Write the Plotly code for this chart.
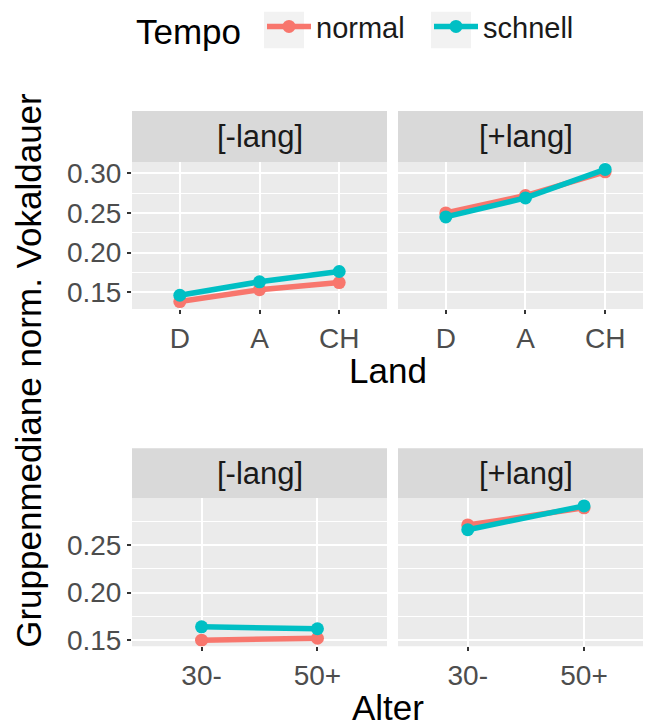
import plotly.graph_objects as go

W, H = 646, 726

# ---- data ----
land_categories = ["D", "A", "CH"]
alter_categories = ["30-", "50+"]
tempo_levels = ["normal", "schnell"]
facet_labels = ["[-lang]", "[+lang]"]

normal_minus_land = [0.138, 0.153, 0.162]
schnell_minus_land = [0.146, 0.163, 0.176]
normal_plus_land = [0.250, 0.272, 0.302]
schnell_plus_land = [0.245, 0.269, 0.305]

normal_minus_alter = [0.150, 0.152]
schnell_minus_alter = [0.164, 0.162]
normal_plus_alter = [0.271, 0.289]
schnell_plus_alter = [0.266, 0.291]

colors = {"normal": "#F8766D", "schnell": "#00BFC4"}

FONT = "Liberation Sans, Arial, sans-serif"
TITLE_SIZE = 35
TICK_SIZE = 28
STRIP_SIZE = 31
LEG_SIZE = 29

def px_x(p):
    return p / W

def px_y(p):
    return 1 - p / H

fig = go.Figure()

panels = [
    ("x", "y", land_categories, normal_minus_land, schnell_minus_land),
    ("x2", "y2", land_categories, normal_plus_land, schnell_plus_land),
    ("x3", "y3", alter_categories, normal_minus_alter, schnell_minus_alter),
    ("x4", "y4", alter_categories, normal_plus_alter, schnell_plus_alter),
]

for i, (xa, ya, xs, nv, sv) in enumerate(panels):
    for name, vals in zip(tempo_levels, [nv, sv]):
        fig.add_trace(go.Scatter(
            x=xs, y=vals, xaxis=xa, yaxis=ya, mode="lines+markers",
            name=name, legendgroup=name, showlegend=(i == 0),
            line=dict(color=colors[name], width=5.5),
            marker=dict(color=colors[name], size=13),
        ))

left_x = (132, 387)
right_x = (398, 643)
top_panel_y = (161, 311)
top_strip_y = (109, 161)
bot_panel_y = (504, 655)
bot_strip_y = (453, 504)

common_x = dict(
    type="category", showgrid=True, gridcolor="white", gridwidth=2,
    zeroline=False, showline=False, ticks="outside", ticklen=4, tickwidth=1.5,
    tickcolor="#333333", tickfont=dict(family=FONT, size=TICK_SIZE, color="#4D4D4D"),
    fixedrange=True,
)
common_y = dict(
    showgrid=True, gridcolor="white", gridwidth=2, zeroline=False, showline=False,
    dtick=0.05, tick0=0, tickformat=".2f",
    minor=dict(dtick=0.025, tick0=0, showgrid=True, gridcolor="white", gridwidth=1),
    tickfont=dict(family=FONT, size=TICK_SIZE, color="#4D4D4D"),
    ticklen=4, tickwidth=1.5, tickcolor="#333333", fixedrange=True,
)

top_range = [0.1286, 0.3145]
bot_range = [0.1435, 0.299]

fig.update_layout(
    xaxis=dict(common_x, domain=[px_x(left_x[0]), px_x(left_x[1])], anchor="y",
               categoryarray=land_categories, categoryorder="array", range=[-0.6, 2.6]),
    xaxis2=dict(common_x, domain=[px_x(right_x[0]), px_x(right_x[1])], anchor="y2",
                categoryarray=land_categories, categoryorder="array", range=[-0.6, 2.475]),
    xaxis3=dict(common_x, domain=[px_x(left_x[0]), px_x(left_x[1])], anchor="y3",
                categoryarray=alter_categories, categoryorder="array", range=[-0.6, 1.6]),
    xaxis4=dict(common_x, domain=[px_x(right_x[0]), px_x(right_x[1])], anchor="y4",
                categoryarray=alter_categories, categoryorder="array", range=[-0.6, 1.507]),
    yaxis=dict(common_y, domain=[px_y(top_panel_y[1]), px_y(top_panel_y[0])], anchor="x",
               range=top_range, ticks="outside"),
    yaxis2=dict(common_y, domain=[px_y(top_panel_y[1]), px_y(top_panel_y[0])], anchor="x2",
                range=top_range, showticklabels=False, ticks=""),
    yaxis3=dict(common_y, domain=[px_y(bot_panel_y[1]), px_y(bot_panel_y[0])], anchor="x3",
                range=bot_range, ticks="outside"),
    yaxis4=dict(common_y, domain=[px_y(bot_panel_y[1]), px_y(bot_panel_y[0])], anchor="x4",
                range=bot_range, showticklabels=False, ticks=""),
)

shapes = []
annotations = []
for xr in (left_x, right_x):
    for yr in (top_panel_y, bot_panel_y):
        shapes.append(dict(type="rect", xref="paper", yref="paper", layer="below",
                           x0=px_x(xr[0]), x1=px_x(xr[1]), y0=px_y(yr[1]), y1=px_y(yr[0]),
                           fillcolor="#EBEBEB", line=dict(width=0)))
strip_centers = [259.5, 525.5]
for k, xr in enumerate((left_x, right_x)):
    for yr in (top_strip_y, bot_strip_y):
        shapes.append(dict(type="rect", xref="paper", yref="paper", layer="below",
                           x0=px_x(xr[0]), x1=px_x(xr[1]), y0=px_y(yr[1]), y1=px_y(yr[0]),
                           fillcolor="#D9D9D9", line=dict(width=0)))
        annotations.append(dict(text=facet_labels[k], xref="paper", yref="paper",
                                x=px_x(strip_centers[k]), y=px_y((yr[0] + yr[1]) / 2),
                                xanchor="center", yanchor="middle", showarrow=False,
                                font=dict(family=FONT, size=STRIP_SIZE, color="#1A1A1A")))

# legend key backgrounds
for kx in (264, 431):
    shapes.append(dict(type="rect", xref="paper", yref="paper", layer="below",
                       x0=px_x(kx), x1=px_x(kx + 40), y0=px_y(45), y1=px_y(8),
                       fillcolor="#F2F2F2", line=dict(width=0)))

annotations.append(dict(text="Tempo", xref="paper", yref="paper", x=px_x(134), y=px_y(28),
                        xanchor="left", yanchor="middle", showarrow=False,
                        font=dict(family=FONT, size=TITLE_SIZE, color="black")))
annotations.append(dict(text="Land", xref="paper", yref="paper", x=px_x(388), y=px_y(374),
                        xanchor="center", yanchor="middle", showarrow=False,
                        font=dict(family=FONT, size=TITLE_SIZE, color="black")))
annotations.append(dict(text="Alter", xref="paper", yref="paper", x=px_x(388), y=px_y(717),
                        xanchor="center", yanchor="middle", showarrow=False,
                        font=dict(family=FONT, size=TITLE_SIZE, color="black")))
annotations.append(dict(text="Gruppenmediane norm. Vokaldauer", xref="paper", yref="paper",
                        x=px_x(29), y=px_y(374), textangle=-90,
                        xanchor="center", yanchor="middle", showarrow=False,
                        font=dict(family=FONT, size=TITLE_SIZE, color="black")))

fig.update_layout(
    width=W, height=H, autosize=False,
    margin=dict(l=0, r=0, t=0, b=0),
    paper_bgcolor="white", plot_bgcolor="rgba(0,0,0,0)",
    shapes=shapes, annotations=annotations,
    showlegend=True,
    legend=dict(orientation="h", x=px_x(262), xanchor="left", y=px_y(23), yanchor="middle",
                font=dict(family=FONT, size=LEG_SIZE, color="#1A1A1A"),
                bgcolor="rgba(0,0,0,0)", itemwidth=44,
                entrywidth=108, entrywidthmode="pixels"),
    font=dict(family=FONT),
)

fig.write_html("out.html")
